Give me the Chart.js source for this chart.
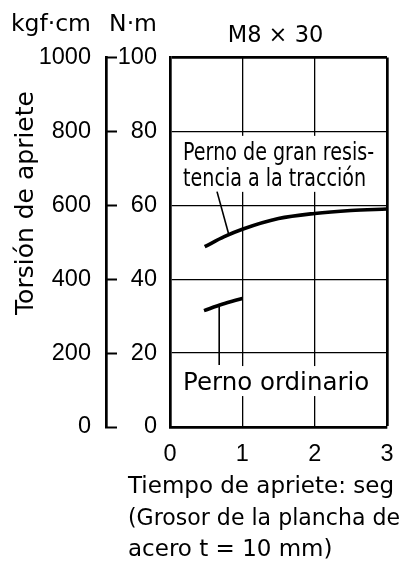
<!DOCTYPE html>
<html>
<head>
<meta charset="utf-8">
<script src="https://cdn.jsdelivr.net/npm/chart.js@4.4.1/dist/chart.umd.min.js"></script>
<style>
  html, body { margin: 0; padding: 0; background: #fff; }
</style>
</head>
<body>
<canvas id="chart" width="403" height="573"></canvas>
<script>
// values
const highX = [0.48, 0.75, 1, 1.5, 2, 2.5, 3]
const highY = [48.8, 51.5, 53.5, 56.4, 57.8, 58.6, 59.0]
const ordX = [0.47, 0.72, 1]
const ordY = [31.5, 33.2, 34.8]
const leaderHighX = [0.65, 0.81]
const leaderHighY = [63.7, 52.3]
const leaderOrdX = [0.68, 0.68]
const leaderOrdY = [32.9, 16.8]

const unitKgf = 'kgf·cm'
const unitNm = 'N·m'
const chartTitle = 'M8 × 30'
const yTitle = 'Torsión de apriete'
const xCaption = ['Tiempo de apriete: seg', '(Grosor de la plancha de', 'acero t = 10 mm)']

const wordFont = '"DejaVu Sans", sans-serif'
const digitFont = '"Liberation Sans", Arial, sans-serif'

// label placement in data units (x in seconds, y in N·m)
const notes = [
  { lines: ['Perno de gran resis-', 'tencia a la tracción'], x: 0.18, y: 72.3, squeeze: 0.78 },
  { lines: ['Perno ordinario'], x: 0.18, y: 10.0, squeeze: 1 }
]

function points(xs, ys) {
  return xs.map((x, i) => ({ x, y: ys[i] }))
}

function noteBoxes(chart) {
  const { ctx } = chart
  const xs = chart.scales.x
  const ys = chart.scales.yNm
  ctx.save()
  ctx.font = '24.5px ' + wordFont
  const out = notes.map(n => {
    const left = xs.getPixelForValue(n.x)
    const base = ys.getPixelForValue(n.y)
    const w = Math.max(...n.lines.map(l => ctx.measureText(l).width)) * n.squeeze
    return { n, left, base, w }
  })
  ctx.restore()
  return out
}

const textPlugin = {
  id: 'texts',
  beforeDatasetsDraw(chart) {
    const { ctx } = chart
    ctx.save()
    ctx.fillStyle = '#fff'
    noteBoxes(chart).forEach(b => {
      const top = b.base - 24
      const bottom = b.base + 26 * (b.n.lines.length - 1) + 6
      ctx.fillRect(b.left - 3, top, b.w + 6, bottom - top)
    })
    ctx.restore()
  },
  afterDatasetsDraw(chart) {
    const { ctx } = chart
    ctx.save()
    ctx.fillStyle = '#000'
    ctx.font = '24.5px ' + wordFont
    ctx.textAlign = 'left'
    ctx.textBaseline = 'alphabetic'
    noteBoxes(chart).forEach(b => {
      b.n.lines.forEach((line, i) => {
        ctx.save()
        ctx.translate(b.left, b.base + i * 26)
        ctx.scale(b.n.squeeze, 1)
        ctx.fillText(line, 0, 0)
        ctx.restore()
      })
    })
    ctx.restore()
  },
  afterDraw(chart) {
    const { ctx, chartArea } = chart
    const kgf = chart.scales.yKgf
    const nm = chart.scales.yNm
    ctx.save()
    ctx.fillStyle = '#000'
    ctx.textBaseline = 'alphabetic'
    ctx.font = '23.5px ' + wordFont
    ctx.textAlign = 'right'
    ctx.fillText(unitKgf, kgf.right - 15, 30.5)
    ctx.fillText(unitNm, nm.right - 13, 30.5)
    ctx.font = '22.5px ' + wordFont
    ctx.textAlign = 'center'
    ctx.fillText(chartTitle, (chartArea.left + chartArea.right) / 2 - 3, 41.5)

    ctx.font = '23px ' + wordFont
    ctx.textAlign = 'left'
    xCaption.forEach((line, i) => {
      ctx.fillText(line, 128, 493 + i * 31.5, 272)
    })

    ctx.font = '25px ' + wordFont
    ctx.translate(33, 203)
    ctx.rotate(-Math.PI / 2)
    ctx.textAlign = 'center'
    ctx.fillText(yTitle, 0, 0)
    ctx.restore()
  }
}

const thin = 1.3
const thick = 2.7

new Chart(document.getElementById('chart'), {
  type: 'line',
  data: {
    datasets: [
      { data: points(highX, highY), borderColor: '#000', borderWidth: 3.6, cubicInterpolationMode: 'monotone', pointRadius: 0, xAxisID: 'x', yAxisID: 'yNm' },
      { data: points(ordX, ordY), borderColor: '#000', borderWidth: 3.6, cubicInterpolationMode: 'monotone', pointRadius: 0, xAxisID: 'x', yAxisID: 'yNm' },
      { data: points(leaderHighX, leaderHighY), borderColor: '#000', borderWidth: 1.6, pointRadius: 0, xAxisID: 'x', yAxisID: 'yNm' },
      { data: points(leaderOrdX, leaderOrdY), borderColor: '#000', borderWidth: 1.6, pointRadius: 0, xAxisID: 'x', yAxisID: 'yNm' }
    ]
  },
  options: {
    responsive: false,
    animation: false,
    layout: { padding: { top: 57.5, right: 16, bottom: 96, left: 0 } },
    plugins: { legend: { display: false }, tooltip: { enabled: false } },
    scales: {
      yKgf: {
        type: 'linear',
        position: 'left',
        weight: 2,
        min: 0,
        max: 1000,
        ticks: { stepSize: 200, padding: 26, color: '#000', font: { family: digitFont, size: 23.5 }, callback: v => String(v) },
        grid: { drawOnChartArea: false, drawTicks: true, tickLength: -11, tickWidth: 2, tickColor: '#000' },
        border: { display: true, color: '#000', width: thick },
        afterFit: s => { s.width = 106 }
      },
      yNm: {
        type: 'linear',
        position: 'left',
        weight: 0,
        min: 0,
        max: 100,
        ticks: { stepSize: 20, padding: 13, color: '#000', font: { family: digitFont, size: 23.5 }, callback: v => String(v) },
        grid: { drawTicks: false, color: '#000', lineWidth: c => (c.tick && c.tick.value === 100 ? thick : thin) },
        border: { color: '#000', width: thick },
        afterFit: s => { s.width = 64 }
      },
      x: {
        type: 'linear',
        position: 'bottom',
        min: 0,
        max: 3,
        ticks: { stepSize: 1, padding: 8, color: '#000', font: { family: digitFont, size: 23.5, lineHeight: 1.7 }, callback: v => String(v) },
        grid: { drawTicks: false, color: '#000', lineWidth: c => (c.tick && c.tick.value === 3 ? thick : thin) },
        border: { color: '#000', width: thick },
        afterFit: s => { s.height = 50 }
      }
    }
  },
  plugins: [textPlugin]
})
</script>
</body>
</html>
